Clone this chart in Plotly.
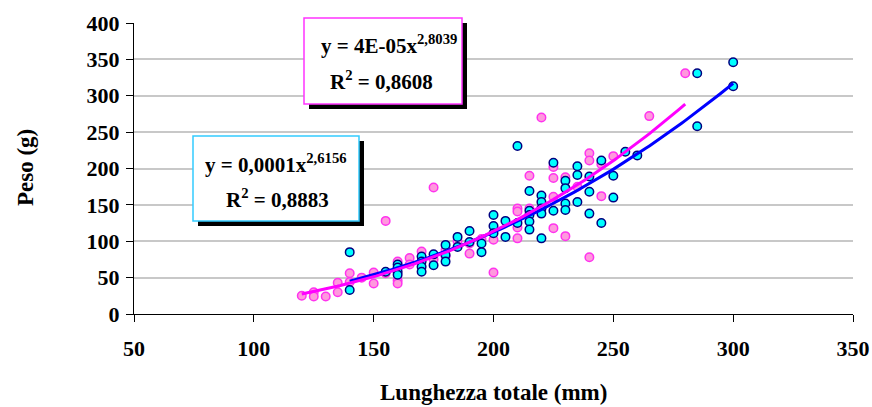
import numpy as np
import plotly.graph_objects as go

# ---------------- data ----------------
pink_x = [120, 125, 125, 130, 135, 135, 140, 140, 145, 150, 150, 155, 155,
          160, 160, 160, 165, 165, 170, 175, 175, 180, 180, 185, 190, 190,
          195, 200, 200, 210, 210, 210, 210, 215, 215, 220, 220,
          225, 225, 225, 225, 230, 230, 235, 240, 240, 240, 245, 245,
          250, 265, 280]
pink_y = [25, 30, 24, 24, 43, 30, 56, 44, 50, 57, 42, 128, 56,
          72, 46, 42, 77, 68, 86, 174, 75, 88, 79, 100, 97, 83,
          103, 102, 57, 145, 141, 119, 104, 190, 145, 270, 145,
          202, 187, 161, 118, 188, 107, 175, 221, 211, 78, 206, 162,
          217, 272, 331]

blue_x = [140, 140, 155, 160, 160, 160, 160, 170, 170, 170, 170, 175, 175,
          180, 180, 180, 185, 185, 190, 190, 195, 195, 200, 200, 200,
          205, 205, 210, 210, 215, 215, 215, 215, 215,
          220, 220, 220, 220, 220, 225, 225, 230, 230, 230, 230,
          235, 235, 235, 240, 240, 240, 245, 245, 250, 250, 255, 260,
          285, 285, 300, 300]
blue_y = [85, 33, 58, 68, 64, 58, 54, 79, 72, 65, 58, 82, 67,
          95, 81, 72, 106, 92, 114, 99, 97, 85, 136, 121, 111,
          128, 106, 231, 125, 169, 142, 136, 127, 116,
          163, 154, 145, 138, 104, 208, 142, 183, 173, 152, 143,
          203, 191, 154, 189, 168, 138, 211, 125, 190, 160, 223, 218,
          331, 258, 346, 313]

x_ticks = [50, 100, 150, 200, 250, 300, 350]
y_ticks = [0, 50, 100, 150, 200, 250, 300, 350, 400]

pink_eq = ["y = 4E-05x<sup>2,8039</sup>", "R<sup>2</sup> = 0,8608"]
blue_eq = ["y = 0,0001x<sup>2,6156</sup>", "R<sup>2</sup> = 0,8883"]


def power_fit(xs, ys, n=120):
    xs = np.asarray(xs, float)
    ys = np.asarray(ys, float)
    b, ln_a = np.polyfit(np.log(xs), np.log(ys), 1)
    xx = np.linspace(xs.min(), xs.max(), n)
    return xx, np.exp(ln_a) * xx ** b


# ---------------- layout geometry ----------------
W, H = 872, 407
L, R, T, B = 134, 19, 23, 93
PW, PH = W - L - R, H - T - B


def px(x):
    return (x - L) / PW


def py(y):
    return (H - B - y) / PH


FONT = "Liberation Serif"

fig = go.Figure()

fig.add_trace(go.Scatter(
    x=pink_x, y=pink_y, mode="markers",
    marker=dict(size=8.5, color="#FF99DD", line=dict(color="#FF33EE", width=1.5)),
    showlegend=False, cliponaxis=False, hoverinfo="skip"))
fig.add_trace(go.Scatter(
    x=blue_x, y=blue_y, mode="markers",
    marker=dict(size=8.5, color="#00FFFF", line=dict(color="#000080", width=1.5)),
    showlegend=False, cliponaxis=False, hoverinfo="skip"))

bx, by = power_fit(blue_x, blue_y)
fig.add_trace(go.Scatter(x=bx, y=by, mode="lines", hoverinfo="skip",
                         line=dict(color="#0000FF", width=3), showlegend=False))
kx, ky = power_fit(pink_x, pink_y)
fig.add_trace(go.Scatter(x=kx, y=ky, mode="lines", hoverinfo="skip",
                         line=dict(color="#FF00FF", width=3), showlegend=False))

axis_common = dict(showline=True, linecolor="black", linewidth=1,
                   ticks="outside", ticklen=7, tickcolor="black", tickwidth=1,
                   zeroline=False, automargin=False,
                   tickfont=dict(family=FONT, size=22, color="black", weight="bold"))

fig.update_layout(
    width=W, height=H,
    margin=dict(l=L, r=R, t=T, b=B),
    paper_bgcolor="white", plot_bgcolor="white",
    showlegend=False,
    xaxis=dict(range=[50, 350], tickvals=x_ticks, showgrid=False,
               ticklabelstandoff=8, **axis_common),
    yaxis=dict(range=[0, 400], tickvals=y_ticks, showgrid=True,
               gridcolor="#C8C8C8", gridwidth=2, ticklabelstandoff=2,
               **axis_common),
    xaxis2=dict(range=[50, 350], tickvals=x_ticks, overlaying="x",
                showticklabels=False, ticks="inside", ticklen=7, automargin=False,
                tickcolor="black", showgrid=False, showline=False, zeroline=False),
    yaxis2=dict(range=[0, 400], tickvals=y_ticks, overlaying="y",
                showticklabels=False, ticks="inside", ticklen=7, automargin=False,
                tickcolor="black", showgrid=False, showline=False, zeroline=False),
)

# equation boxes: shadow + framed box
boxes = [
    dict(l=304, r=462, t=18, b=104, color="#FF33FF", lines=pink_eq,
         cx=[389, 381], cy=[45, 81]),
    dict(l=193, r=359, t=136, b=221, color="#33CCFF", lines=blue_eq,
         cx=[276, 277], cy=[163, 198]),
]
for bxd in boxes:
    fig.add_shape(type="rect", xref="paper", yref="paper", layer="above",
                  x0=px(bxd["l"] + 5), x1=px(bxd["r"] + 5),
                  y0=py(bxd["b"] + 5), y1=py(bxd["t"] + 5),
                  fillcolor="black", line=dict(width=0))
    fig.add_shape(type="rect", xref="paper", yref="paper", layer="above",
                  x0=px(bxd["l"]), x1=px(bxd["r"]),
                  y0=py(bxd["b"]), y1=py(bxd["t"]),
                  fillcolor="white", line=dict(color=bxd["color"], width=1.5))
    for txt, cx, cy in zip(bxd["lines"], bxd["cx"], bxd["cy"]):
        fig.add_annotation(xref="paper", yref="paper", x=px(cx), y=py(cy),
                           text=txt, showarrow=False, xanchor="center",
                           yanchor="middle",
                           font=dict(family=FONT, size=21, color="black",
                                     weight="bold"))

# axis titles
fig.add_annotation(xref="paper", yref="paper", x=px(493), y=py(392),
                   text="Lunghezza totale (mm)", showarrow=False,
                   xanchor="center", yanchor="middle",
                   font=dict(family=FONT, size=23, color="black", weight="bold"))
fig.add_annotation(xref="paper", yref="paper", x=px(25), y=py(168),
                   text="Peso (g)", showarrow=False, textangle=-90,
                   xanchor="center", yanchor="middle",
                   font=dict(family=FONT, size=23, color="black", weight="bold"))

fig.write_html("out.html",
               config={"displayModeBar": False, "responsive": False},
               post_script="document.body.style.margin='0px';"
                           "document.documentElement.style.overflow='hidden';")
